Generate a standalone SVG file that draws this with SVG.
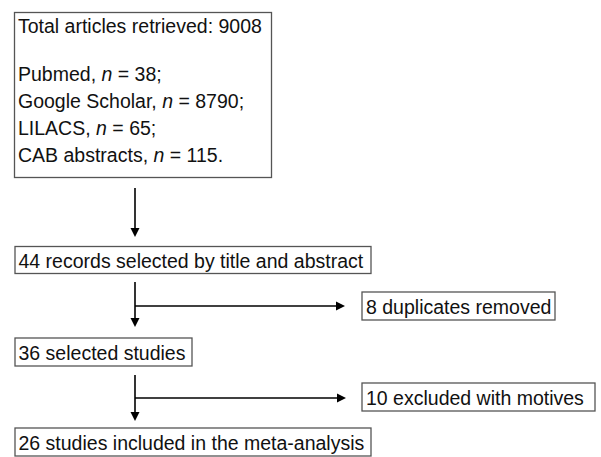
<svg xmlns="http://www.w3.org/2000/svg" width="601" height="457" viewBox="0 0 601 457">
<style>
.box{fill:#fff;stroke:#555;stroke-width:1.3}
.t{font-family:"Liberation Sans",Arial,Helvetica,sans-serif;font-size:19.5px;fill:#111}
.c{stroke:#000;stroke-width:1.6;fill:none}
.h{fill:#000}
</style>
<rect width="601" height="457" fill="#fff"/>
<g id="connectors">
<path class="c" d="M135,188 V229"/>
<path class="h" d="M130.5,228 L139.5,228 L135,237 Z"/>
<path class="c" d="M135,282 V319"/>
<path class="h" d="M130.5,318 L139.5,318 L135,327 Z"/>
<path class="c" d="M135,306 H337"/>
<path class="h" d="M336,301.5 L336,310.5 L345,306 Z"/>
<path class="c" d="M135,375 V413"/>
<path class="h" d="M130.5,412 L139.5,412 L135,421 Z"/>
<path class="c" d="M135,398 H338"/>
<path class="h" d="M337,393.5 L337,402.5 L346,398 Z"/>
</g>
<g id="node-total">
<rect class="box" x="14.5" y="12.5" width="257" height="165"/>
<text class="t" x="18" y="33">Total articles retrieved: 9008</text>
<text class="t" x="18" y="81">Pubmed, <tspan font-style="italic">n</tspan> = 38;</text>
<text class="t" x="18" y="108">Google Scholar, <tspan font-style="italic">n</tspan> = 8790;</text>
<text class="t" x="18" y="134.5">LILACS, <tspan font-style="italic">n</tspan> = 65;</text>
<text class="t" x="18" y="161.5">CAB abstracts, <tspan font-style="italic">n</tspan> = 115.</text>
</g>
<g id="node-records">
<rect class="box" x="15" y="246.5" width="356" height="27"/>
<text class="t" x="18.5" y="267.5">44 records selected by title and abstract</text>
</g>
<g id="node-duplicates">
<rect class="box" x="362" y="292" width="193" height="28"/>
<text class="t" x="366" y="313.5">8 duplicates removed</text>
</g>
<g id="node-selected">
<rect class="box" x="15" y="338" width="177" height="28"/>
<text class="t" x="18.5" y="359.5">36 selected studies</text>
</g>
<g id="node-excluded">
<rect class="box" x="362" y="383" width="233" height="28"/>
<text class="t" x="366" y="404.5">10 excluded with motives</text>
</g>
<g id="node-included">
<rect class="box" x="15" y="428" width="356" height="28"/>
<text class="t" x="18.5" y="449.5">26 studies included in the meta-analysis</text>
</g>
</svg>
